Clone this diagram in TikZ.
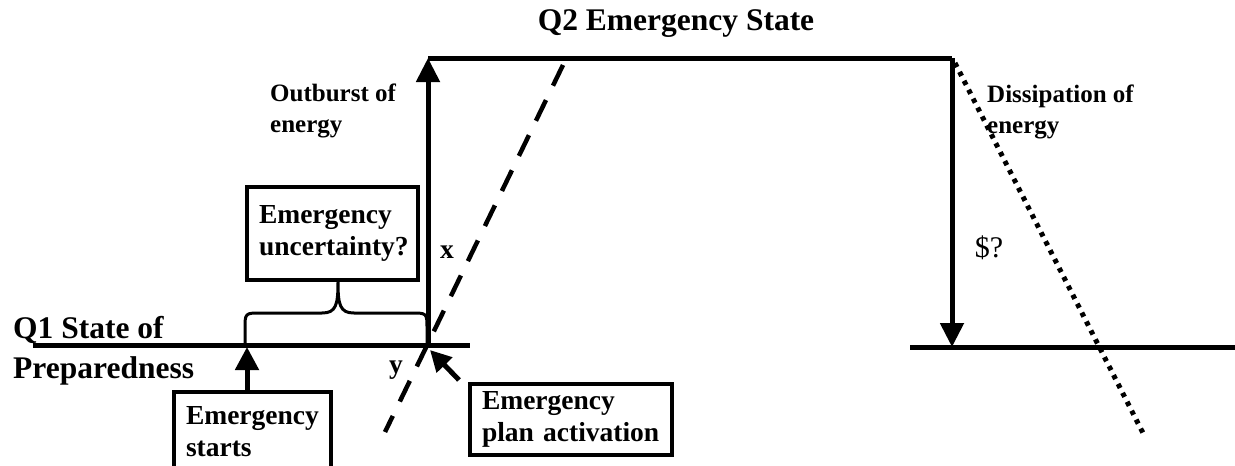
\documentclass[tikz,border=0pt]{standalone}
\usepackage{fontspec}
\setmainfont{Liberation Serif}
\usetikzlibrary{positioning, arrows.meta}

\newcommand{\boxfont}{\fontsize{27.5}{32}\selectfont\bfseries}
\newcommand{\qfont}{\fontsize{31.5}{40}\selectfont\bfseries}
\newcommand{\notefont}{\fontsize{25}{31}\selectfont\bfseries}

\tikzset{
  thickline/.style={line width=5pt},
  bigarrow/.style={line width=5pt, -{Triangle[width=23pt,length=24pt]}},
  infobox/.style={draw, line width=4pt, align=left, inner xsep=12pt, inner ysep=0pt, font=\boxfont},
  freetext/.style={anchor=north west, inner sep=0pt, align=left},
}

\begin{document}
\begin{tikzpicture}[x=1pt, y=-1pt]
    \useasboundingbox (0,0) rectangle (1235,466);

    % Corners of the state line
    \coordinate (q1left) at (33,345);
    \coordinate (q1right) at (470,345);
    \coordinate (jump) at (428,345);
    \coordinate (peakleft) at (428,58);
    \coordinate (peakright) at (952,58);
    \coordinate (drop) at (952,347);
    \coordinate (q3left) at (910,347);
    \coordinate (q3right) at (1235,347);

    % Levels and jumps
    \draw[thickline] (q1left) -- (q1right);
    \draw[thickline] (q3left) -- (q3right);
    \draw[thickline] (peakleft) -- (peakright);
    \draw[bigarrow] (jump) -- (peakleft);
    \draw[bigarrow] (peakright) -- (drop);

    % Slopes through the corners
    \coordinate (dashtop) at (563,65);
    \coordinate (dashbot) at (385,432);
    \draw[line width=4.5pt, dash pattern=on 23pt off 16pt] (dashtop) -- (dashbot);
    \coordinate (dottop) at (955,63);
    \coordinate (dotbot) at (1145,437);
    \draw[line width=5pt, dash pattern=on 4.5pt off 5.5pt] (dottop) -- (dotbot);

    % Labels
    \node[font=\qfont, anchor=base] (q2) at (676,30) {Q2 Emergency State};
    \node[freetext, font=\qfont] (q1) at (13,316) {Q1 State of\\Preparedness};
    \node[freetext, font=\notefont] (outburst) at (270,84) {Outburst of\\energy};
    \node[freetext, font=\notefont] (dissip) at (987,85) {Dissipation of\\energy};
    \node[font=\boxfont, anchor=base] (xlab) at (447,258) {x};
    \node[font=\boxfont, anchor=base] (ylab) at (396,373) {y};
    \node[font=\fontsize{30}{30}\selectfont, anchor=base] (cost) at (989,257) {\$?};

    % Boxes
    \node[infobox, minimum width=171pt, minimum height=93pt, text width=147pt] (uncert) at (332.5,233.5) {Emergency\\uncertainty?};
    \node[infobox, minimum width=157pt, minimum height=80pt, text width=133pt] (starts) at (252.5,432) {Emergency\\starts};
    \node[infobox, minimum width=202pt, minimum height=71pt, text width=178pt] (plan) at (571,419.5) {Emergency\\plan activation};

    % Pointers to the line
    \coordinate (startpt) at (247,347);
    \draw[line width=5pt, -{Triangle[width=23pt,length=23pt]}] (starts.north -| startpt) -- (startpt);
    \coordinate (actpt) at (430,350);
    \draw[line width=5pt, -{Triangle[width=21pt,length=21pt]}] ([shift={(-9,-2)}]plan.north west) -- (actpt);

    % Brace under the uncertainty box
    \coordinate (bracetip) at (338,282);
    \draw[line width=3pt] (245,345) -- (245,329) .. controls (245,313) .. (261,313) -- (322,313)
      .. controls (336,313) and (338,305) .. (bracetip)
      .. controls (338,305) and (340,313) .. (354,313) -- (411,313)
      .. controls (427,313) .. (427,329) -- (427,345);
\end{tikzpicture}
\end{document}
